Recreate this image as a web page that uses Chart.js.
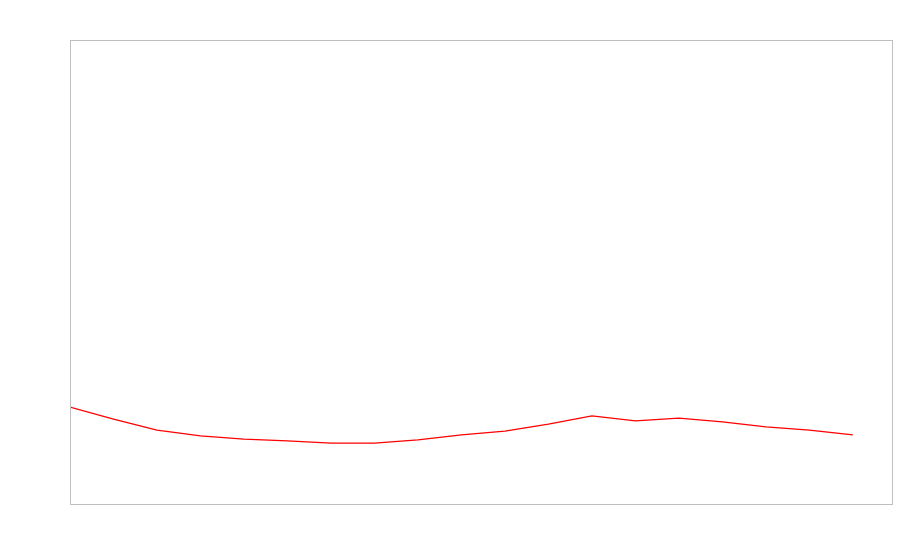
<!DOCTYPE html>
<html>
<head>
<meta charset="utf-8">
<script src="https://cdn.jsdelivr.net/npm/chart.js@4"></script>
<style>
  html, body { margin: 0; padding: 0; background: #fff; }
  #wrap { width: 900px; height: 560px; position: relative; }
</style>
</head>
<body>
<div id="wrap"><canvas id="lineChart"></canvas></div>
<script>
// categories (position index) and series values
const labels = [1, 2, 3, 4, 5, 6, 7, 8, 9, 10, 11, 12, 13, 14, 15, 16, 17, 18, 19];
const values = [20.9, 18.3, 15.9, 14.7, 14.0, 13.6, 13.1, 13.1, 13.8, 14.9, 15.7, 17.2, 19.0, 17.9, 18.5, 17.7, 16.6, 15.9, 14.9];

// frame round the plot area
const frame = {
    id: 'frame',
    afterDraw(chart) {
        const a = chart.chartArea;
        const c = chart.ctx;
        c.save();
        c.strokeStyle = '#bfbfbf';
        c.lineWidth = 1;
        c.strokeRect(a.left + 0.5, a.top + 0.5, a.right - a.left, a.bottom - a.top);
        c.restore();
    }
};

var ctx = document.getElementById('lineChart').getContext('2d');
var chart = new Chart(ctx, {
    type: 'line',
    data: {
        datasets: [{
            data: labels.map((l, i) => ({x: i, y: values[i]})),
            borderColor: '#ff0000',
            borderWidth: 1.3,
            pointRadius: 0,
            tension: 0,
            fill: false
        }]
    },
    options: {
        responsive: true,
        maintainAspectRatio: false,
        animation: false,
        layout: { padding: { left: 70, top: 40, right: 8, bottom: 56 } },
        plugins: { legend: { display: false }, tooltip: { enabled: false } },
        scales: {
            x: { type: 'linear', min: 0, max: 18.9, display: false },
            y: { min: 0, max: 100, display: false }
        }
    },
    plugins: [frame]
});
</script>
</body>
</html>
